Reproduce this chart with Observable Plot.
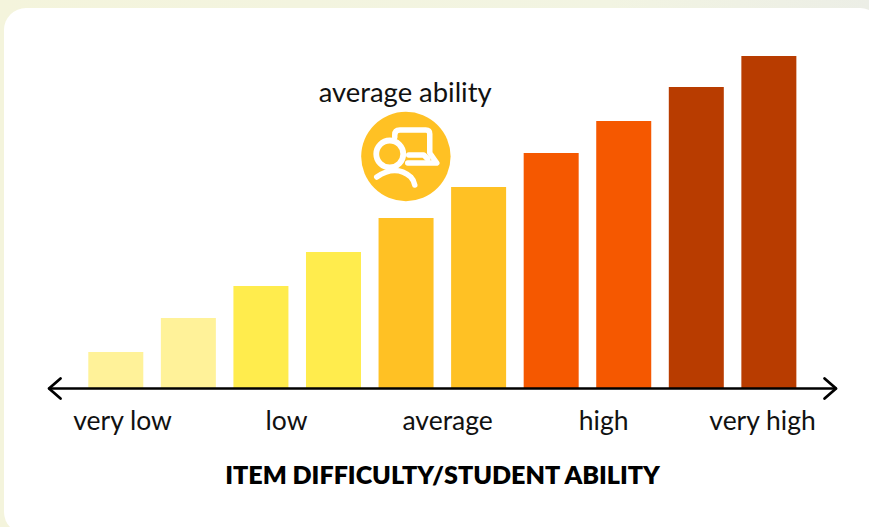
<!DOCTYPE html>
<html>
<head>
<meta charset="utf-8">
<script src="https://cdn.jsdelivr.net/npm/d3@7"></script>
<script src="https://cdn.jsdelivr.net/npm/@observablehq/plot@0.6"></script>
<style>
html,body{margin:0;padding:0;width:869px;height:527px;overflow:hidden;background:linear-gradient(90deg,#f4f4dc 0%,#f2f4e2 70%,#eceee6 100%);}
#card{position:absolute;left:4px;top:7.5px;width:878px;height:526px;background:#fff;border-radius:22px;}
#chart{position:absolute;left:0;top:0;}
svg{background:transparent!important;display:block;}
</style>
</head>
<body>
<div id="card"></div>
<div id="chart"></div>
<script>
const positions = [1,2,3,4,5,6,7,8,9,10];
const heights = [36,70,102,136,170,201,235,267,301,332];
const colors = ["#FFF299","#FFF299","#FFEC4D","#FFEC4D","#FFC124","#FFC124","#F55800","#F55800","#B83C00","#B83C00"];
const labels = ["very low","low","average","high","very high"];
const labelX = [1.09,3.35,5.57,7.72,9.91];
const font = "Lato, sans-serif";
const iconPaths = [
  "M-11,-19 L-11,-21 Q-11,-26 -6,-26 L20,-26 Q24,-26 24,-22 L24,-3 L31,7 L2,7",
  "M3,-1 L18,-1 L22,3",
  "M-29,21 Q-10,8 5,21 Q8,24 9,29"
];
const barData = positions.map((p,i)=>({p,h:heights[i],c:colors[i]}));
const labelData = labels.map((t,i)=>({t,x:labelX[i]}));

const chevron = (color) => {
  const m = d3.create("svg:marker")
    .attr("viewBox","-15 -13 28 26").attr("markerWidth",28).attr("markerHeight",26)
    .attr("markerUnits","userSpaceOnUse").attr("orient","auto-start-reverse");
  m.append("path").attr("d","M-12,-10 L-0.5,0 L-12,10")
    .attr("fill","none").attr("stroke",color).attr("stroke-width",2.8)
    .attr("stroke-linecap","round").attr("stroke-linejoin","round");
  return m.node();
};

const chart = Plot.plot({
  width:869,height:527,margin:0,
  style:{background:"transparent",overflow:"visible"},
  x:{domain:[-0.5918,11.384],range:[0,869],axis:null},
  y:{domain:[0,332],range:[388,56],axis:null},
  marks:[
    Plot.rect(barData,{x1:d=>d.p-0.375,x2:d=>d.p+0.383,y1:0,y2:"h",fill:"c"}),
    Plot.link([{a:0.07,b:10.93}],{x1:"a",x2:"b",y1:0,y2:0,stroke:"#000",strokeWidth:2.5,markerStart:chevron,markerEnd:chevron}),
    Plot.text(labelData,{x:"x",y:-33,text:"t",fontSize:26.5,fontFamily:font,fontWeight:400,fill:"#111"}),
    Plot.text(["average ability"],{x:4.985,y:295,text:d=>d,fontSize:27.4,fontFamily:font,fill:"#111"}),
    Plot.text(["ITEM DIFFICULTY/STUDENT ABILITY"],{x:5.5,y:-87,text:d=>d,fontSize:25.1,fontFamily:font,fontWeight:800,fill:"#000"}),
    Plot.dot([{x:4.995,y:232}],{x:"x",y:"y",r:44.7,fill:"#FFC124"}),
    (index,scales)=>{
      const g=d3.create("svg:g").attr("transform",`translate(${scales.x(5)},${scales.y(232)})`)
        .attr("fill","none").attr("stroke","#fff").attr("stroke-width",5.5).attr("stroke-linecap","round").attr("stroke-linejoin","round");
      iconPaths.forEach(p=>g.append("path").attr("d",p));
      g.append("circle").attr("cx",-16).attr("cy",-2).attr("r",13.5).attr("fill","#FFC124").attr("stroke-width",5.8);
      return g.node();
    }
  ]
});
document.getElementById("chart").appendChild(chart);
</script>
</body>
</html>
